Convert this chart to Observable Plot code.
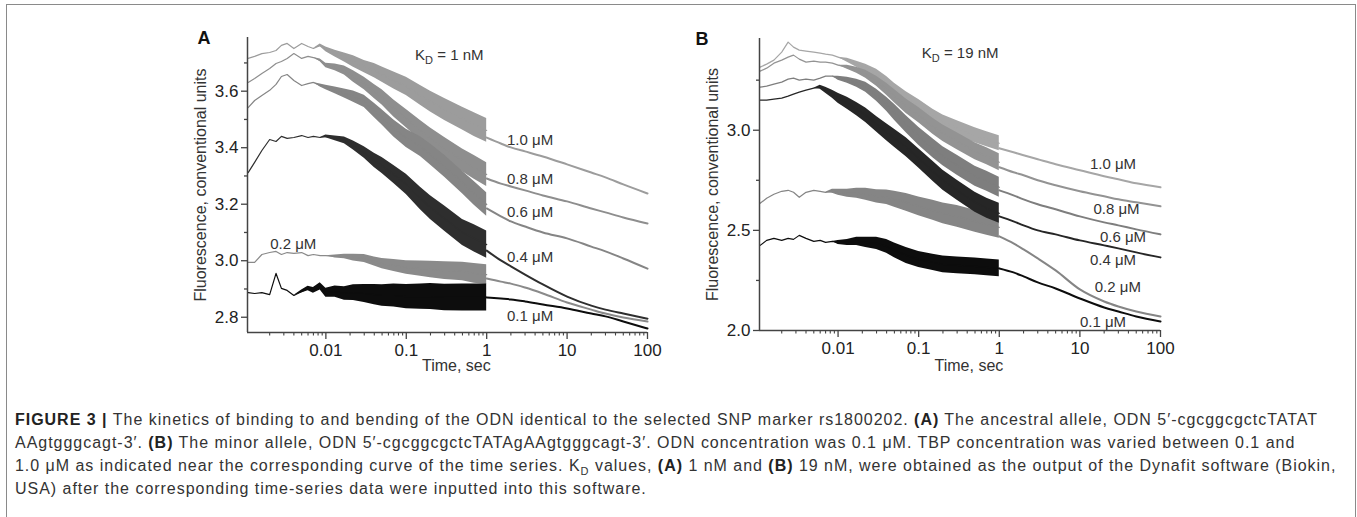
<!DOCTYPE html>
<html>
<head>
<meta charset="utf-8">
<script src="https://cdn.jsdelivr.net/npm/d3@7"></script>
<script src="https://cdn.jsdelivr.net/npm/@observablehq/plot@0.6"></script>
<style>
  html, body { margin: 0; padding: 0; background: #fff; }
  body { position: relative; width: 1357px; height: 517px; overflow: hidden; font-family: "Liberation Sans", Arial, Helvetica, sans-serif; }
  #border { position: absolute; left: 6px; top: 4px; width: 1350px; height: 600px; border: 1.5px solid #8a8a8a; border-bottom: none; box-sizing: border-box; }
  .panel { position: absolute; top: 0; }
  #caption { position: absolute; left: 0; top: 395px; }
</style>
</head>
<body>
<div id="border"></div>
<div id="panelA" class="panel" style="left:0;width:680px"></div>
<div id="panelB" class="panel" style="left:512px;width:681px"></div>
<svg id="caption" width="1357" height="122"></svg>
<script>
// ================= DATA =================
// time grids (seconds)
const tFast = [0.00108,0.0013,0.0016,0.002,0.0024,0.0028,0.0033,0.004,0.005,0.006,0.007,0.0085,0.01,0.013,0.017,0.022,0.03,0.04,0.05,0.07,0.1,0.15,0.2,0.3,0.5,0.7,1];
const tSlow = [1,1.5,2,3,5,10,20,30,50,100];

// TBP concentrations (order: 1.0, 0.8, 0.6, 0.4, 0.2, 0.1 µM)
const concLabels = ["1.0 μM","0.8 μM","0.6 μM","0.4 μM","0.2 μM","0.1 μM"];

// ---- Panel A (ancestral allele), fluorescence, fast phase (mean of trace) ----
const a10Fast = [3.716,3.723,3.733,3.737,3.744,3.762,3.769,3.751,3.769,3.758,3.751,3.762,3.748,3.733,3.719,3.705,3.687,3.673,3.659,3.638,3.617,3.585,3.563,3.535,3.503,3.482,3.461];
const a08Fast = [3.631,3.645,3.663,3.680,3.698,3.705,3.716,3.733,3.716,3.723,3.719,3.709,3.691,3.684,3.673,3.652,3.627,3.599,3.578,3.539,3.503,3.461,3.433,3.397,3.355,3.330,3.305];
const a06Fast = [3.542,3.567,3.585,3.603,3.624,3.652,3.659,3.638,3.620,3.627,3.631,3.620,3.613,3.603,3.592,3.581,3.564,3.532,3.507,3.468,3.433,3.404,3.376,3.334,3.277,3.238,3.199];
const a04Fast = [3.312,3.348,3.390,3.429,3.422,3.440,3.433,3.436,3.443,3.436,3.440,3.436,3.440,3.433,3.426,3.408,3.383,3.355,3.337,3.305,3.270,3.220,3.188,3.149,3.100,3.079,3.057];
const a02Fast = [2.994,2.994,3.022,3.029,3.033,3.022,3.029,3.026,3.029,3.018,3.022,3.018,3.018,3.015,3.015,3.011,3.008,2.997,2.990,2.983,2.976,2.972,2.969,2.965,2.962,2.955,2.951];
const a01Fast = [2.887,2.884,2.887,2.880,2.955,2.902,2.895,2.877,2.891,2.902,2.895,2.909,2.887,2.891,2.884,2.887,2.884,2.880,2.877,2.877,2.873,2.873,2.873,2.870,2.870,2.870,2.870];
// half-width of the noise band around each fast trace
const a10Noise = [0,0,0,0,0,0,0,0,0,0,0,0.005,0.008,0.012,0.016,0.02,0.022,0.025,0.027,0.03,0.032,0.035,0.037,0.039,0.04,0.042,0.042];
const a08Noise = [0,0,0,0,0,0,0,0,0,0,0,0.005,0.008,0.012,0.016,0.02,0.022,0.025,0.027,0.03,0.032,0.035,0.037,0.039,0.04,0.042,0.042];
const a06Noise = [0,0,0,0,0,0,0,0,0,0,0,0.005,0.008,0.012,0.016,0.02,0.022,0.025,0.027,0.03,0.032,0.035,0.037,0.039,0.04,0.042,0.042];
const a04Noise = [0,0,0,0,0,0,0,0,0,0,0,0,0.005,0.008,0.012,0.016,0.02,0.025,0.028,0.032,0.036,0.04,0.042,0.045,0.046,0.048,0.048];
const a02Noise = [0,0,0,0,0,0,0,0,0,0,0,0,0,0.005,0.008,0.012,0.014,0.016,0.018,0.021,0.024,0.027,0.029,0.031,0.033,0.035,0.035];
const a01Noise = [0,0,0,0,0,0,0,0,0.005,0.008,0.01,0.013,0.016,0.02,0.024,0.028,0.032,0.036,0.038,0.041,0.043,0.045,0.046,0.047,0.048,0.048,0.048];
// slow phase (1–100 s)
const a10Slow = [3.436,3.415,3.401,3.387,3.369,3.341,3.312,3.295,3.270,3.238];
const a08Slow = [3.291,3.273,3.263,3.249,3.231,3.210,3.185,3.171,3.153,3.132];
const a06Slow = [3.185,3.157,3.139,3.121,3.100,3.079,3.050,3.033,3.008,2.972];
const a04Slow = [3.036,3.001,2.980,2.951,2.916,2.873,2.841,2.827,2.813,2.795];
const a02Slow = [2.937,2.926,2.919,2.905,2.884,2.852,2.827,2.813,2.799,2.785];
const a01Slow = [2.870,2.866,2.863,2.856,2.845,2.831,2.813,2.803,2.785,2.760];

// ---- Panel B (minor allele) ----
const b10Fast = [3.315,3.330,3.350,3.390,3.440,3.415,3.400,3.395,3.390,3.385,3.380,3.375,3.365,3.350,3.330,3.310,3.280,3.240,3.205,3.160,3.120,3.070,3.040,3.010,2.975,2.955,2.935];
const b08Fast = [3.295,3.310,3.335,3.350,3.365,3.375,3.355,3.340,3.345,3.340,3.340,3.335,3.325,3.315,3.300,3.280,3.245,3.205,3.170,3.120,3.075,3.020,2.985,2.945,2.895,2.870,2.840];
const b06Fast = [3.215,3.220,3.230,3.240,3.255,3.260,3.250,3.255,3.250,3.260,3.270,3.270,3.260,3.250,3.235,3.215,3.175,3.130,3.090,3.030,2.970,2.910,2.870,2.825,2.770,2.745,2.715];
const b04Fast = [3.150,3.150,3.155,3.160,3.170,3.180,3.190,3.200,3.210,3.215,3.200,3.180,3.160,3.135,3.105,3.075,3.030,2.990,2.960,2.915,2.860,2.795,2.750,2.700,2.640,2.610,2.585];
const b02Fast = [2.635,2.660,2.680,2.695,2.700,2.690,2.665,2.690,2.700,2.695,2.690,2.695,2.690,2.685,2.685,2.680,2.670,2.665,2.655,2.640,2.620,2.600,2.585,2.570,2.545,2.530,2.515];
const b01Fast = [2.425,2.450,2.460,2.450,2.460,2.455,2.475,2.460,2.445,2.450,2.440,2.445,2.440,2.440,2.445,2.440,2.435,2.420,2.400,2.375,2.355,2.340,2.330,2.325,2.320,2.315,2.310];
const b10Noise = [0,0,0,0,0,0,0,0,0,0,0,0,0,0.01,0.015,0.02,0.025,0.028,0.03,0.032,0.034,0.035,0.036,0.037,0.037,0.037,0.037];
const b08Noise = [0,0,0,0,0,0,0,0,0,0,0,0,0,0.01,0.015,0.02,0.025,0.03,0.033,0.036,0.038,0.04,0.041,0.042,0.042,0.042,0.042];
const b06Noise = [0,0,0,0,0,0,0,0,0,0,0,0,0.01,0.015,0.02,0.025,0.03,0.035,0.04,0.042,0.045,0.047,0.048,0.05,0.05,0.05,0.05];
const b04Noise = [0,0,0,0,0,0,0,0,0,0.01,0.015,0.02,0.025,0.03,0.033,0.036,0.039,0.042,0.045,0.047,0.048,0.05,0.05,0.05,0.05,0.05,0.05];
const b02Noise = [0,0,0,0,0,0,0,0,0,0,0,0.01,0.015,0.02,0.025,0.03,0.033,0.036,0.04,0.044,0.047,0.05,0.052,0.054,0.055,0.055,0.055];
const b01Noise = [0,0,0,0,0,0,0,0,0,0,0,0,0.01,0.015,0.02,0.025,0.03,0.034,0.037,0.04,0.04,0.041,0.042,0.042,0.042,0.042,0.042];
const b10Slow = [2.910,2.890,2.875,2.855,2.830,2.800,2.770,2.755,2.735,2.715];
const b08Slow = [2.815,2.790,2.775,2.750,2.725,2.695,2.670,2.655,2.640,2.620];
const b06Slow = [2.700,2.675,2.655,2.630,2.605,2.570,2.540,2.525,2.505,2.480];
const b04Slow = [2.570,2.545,2.525,2.500,2.480,2.450,2.425,2.410,2.390,2.365];
const b02Slow = [2.470,2.435,2.405,2.360,2.300,2.205,2.145,2.120,2.095,2.070];
const b01Slow = [2.310,2.290,2.270,2.240,2.210,2.160,2.115,2.095,2.070,2.045];

// ---- annotations (data coordinates) ----
const labelTA = [1.79,1.79,1.79,1.79,0.00203,1.79];
const labelVA = [3.408,3.272,3.154,2.995,3.043,2.788];
const labelTB = [13.3,14.7,17.7,13.3,15.3,10.0];
const labelVB = [2.808,2.583,2.442,2.325,2.192,2.017];
const kdTextA = "KD = 1 nM", kdTA = 0.1286, kdVA = 3.711;
const kdTextB = "KD = 19 nM", kdTB = 0.1092, kdVB = 3.3585;

// ---- axes ----
const xDomain = [0.00106, 100];
const xTicks = [0.01, 0.1, 1, 10, 100];
const xTickLabels = ["0.01", "0.1", "1", "10", "100"];
const xMinorMantissa = [2,3,4,5,6,7,8,9];
const xMinorDecades = [0.001,0.01,0.1,1,10];
const yDomainA = [2.746, 3.79];
const yTicksA = [2.8, 3.0, 3.2, 3.4, 3.6];
const yTickLabelsA = ["2.8", "3.0", "3.2", "3.4", "3.6"];
const yMinorA = [2.9, 3.1, 3.3, 3.5, 3.7];
const yDomainB = [2.0, 3.458];
const yTicksB = [2.0, 2.5, 3.0];
const yTickLabelsB = ["2.0", "2.5", "3.0"];
const yMinorB = [2.25, 2.75, 3.25];

// ================= STYLE =================
const FONT = '"Liberation Sans", Arial, Helvetica, sans-serif';
const colorsA = ["#9c9c9c","#8e8e8e","#858585","#2e2e2e","#8a8a8a","#0d0d0d"];
const colorsB = ["#a6a6a6","#939393","#7e7e7e","#262626","#858585","#0d0d0d"];
const drawOrder = [0,1,2,4,3,5];
const xMinor = xMinorDecades.flatMap(d => xMinorMantissa.map(m => +(m * d).toPrecision(3)));

function panel(p) {
  const marks = [];
  for (const i of drawOrder) {
    const fast = tFast.map((t, j) => ({t, v: p.fast[i][j], lo: p.fast[i][j] - p.noise[i][j], hi: p.fast[i][j] + p.noise[i][j]}));
    const slow = tSlow.map((t, j) => ({t, v: p.slow[i][j]}));
    marks.push(Plot.areaY(fast, {x: "t", y1: "lo", y2: "hi", fill: p.colors[i]}));
    marks.push(Plot.line(fast, {x: "t", y: "v", stroke: p.colors[i], strokeWidth: 1.2}));
    marks.push(Plot.line(slow, {x: "t", y: "v", stroke: p.colors[i], strokeWidth: 2, curve: "monotone-x"}));
  }
  marks.push(Plot.ruleX([xDomain[0]], {stroke: "#444", strokeWidth: 1.5}));
  marks.push(Plot.ruleY([p.yDomain[0]], {stroke: "#444", strokeWidth: 1.5}));
  marks.push(Plot.axisY(p.yTicks, {tickSize: 6, tickPadding: 3, tickFormat: d => p.yTickLabels[p.yTicks.indexOf(d)], fontSize: 17, label: null, stroke: "#444", fill: "#222", strokeWidth: 1.3}));
  marks.push(Plot.axisY(p.yMinor, {tickSize: 3, tickFormat: () => "", label: null, stroke: "#444", strokeWidth: 1.3}));
  marks.push(Plot.axisX(xTicks, {tickSize: 7, tickPadding: 4, tickFormat: d => xTickLabels[xTicks.indexOf(d)], fontSize: 17, label: null, stroke: "#444", fill: "#222", strokeWidth: 1.3}));
  marks.push(Plot.axisX(xMinor, {tickSize: 3.5, tickFormat: () => "", label: null, stroke: "#444", strokeWidth: 1.1}));
  const labels = concLabels.map((s, i) => ({s, t: p.labelT[i], v: p.labelV[i]}));
  marks.push(Plot.text(labels, {x: "t", y: "v", text: "s", textAnchor: "start", lineAnchor: "bottom", fontSize: 15, fill: "#333"}));
  marks.push(Plot.text([{s: p.kdText, t: p.kdT, v: p.kdV}], {x: "t", y: "v", text: "s", textAnchor: "start", lineAnchor: "bottom", fontSize: 15, fill: "#333"}));
  marks.push(Plot.text([p.letter], {text: d => d, frameAnchor: "top-left", dx: p.letterDx, dy: 6, textAnchor: "start", lineAnchor: "bottom", fontSize: 18, fontWeight: "bold", fill: "#111"}));
  marks.push(Plot.text(["Fluorescence, conventional units"], {text: d => d, frameAnchor: "left", rotate: -90, dx: -47, textAnchor: "middle", lineAnchor: "middle", fontSize: 16, fill: "#333"}));
  marks.push(Plot.text([{t: 0.42}], {x: "t", text: () => "Time, sec", frameAnchor: "bottom", dy: p.timeDy, lineAnchor: "bottom", fontSize: 16, fill: "#333"}));

  const svg = Plot.plot({
    width: p.width, height: 380,
    marginLeft: 247, marginRight: 33, marginTop: p.mTop, marginBottom: p.mBottom,
    x: {type: "log", domain: xDomain, axis: null},
    y: {domain: p.yDomain, axis: null},
    style: {background: "transparent", fontFamily: FONT, overflow: "visible"},
    marks
  });
  d3.select(svg).selectAll("text").each(function () {
    const s = this.textContent;
    if (s.startsWith("KD")) {
      const sel = d3.select(this);
      sel.text(null);
      sel.append("tspan").text("K");
      sel.append("tspan").attr("dy", 4).attr("font-size", 11).text("D");
      sel.append("tspan").attr("dy", -4).text(s.slice(2));
    }
  });
  return svg;
}

document.getElementById("panelA").appendChild(panel({
  fast: [a10Fast, a08Fast, a06Fast, a04Fast, a02Fast, a01Fast],
  noise: [a10Noise, a08Noise, a06Noise, a04Noise, a02Noise, a01Noise],
  slow: [a10Slow, a08Slow, a06Slow, a04Slow, a02Slow, a01Slow],
  colors: colorsA, yDomain: yDomainA, yTicks: yTicksA, yTickLabels: yTickLabelsA, yMinor: yMinorA,
  labelT: labelTA, labelV: labelVA, kdText: kdTextA, kdT: kdTA, kdV: kdVA,
  letter: "A", letterDx: -50, width: 680, mTop: 37, mBottom: 48, timeDy: 38
}));
document.getElementById("panelB").appendChild(panel({
  fast: [b10Fast, b08Fast, b06Fast, b04Fast, b02Fast, b01Fast],
  noise: [b10Noise, b08Noise, b06Noise, b04Noise, b02Noise, b01Noise],
  slow: [b10Slow, b08Slow, b06Slow, b04Slow, b02Slow, b01Slow],
  colors: colorsB, yDomain: yDomainB, yTicks: yTicksB, yTickLabels: yTickLabelsB, yMinor: yMinorB,
  labelT: labelTB, labelV: labelVB, kdText: kdTextB, kdT: kdTB, kdV: kdVB,
  letter: "B", letterDx: -64, width: 681, mTop: 38, mBottom: 50, timeDy: 40
}));

// ================= CAPTION =================
const captionLines = [
  [["FIGURE 3 | ", "b"], ["The kinetics of binding to and bending of the ODN identical to the selected SNP marker rs1800202. "], ["(A)", "b"], [" The ancestral allele, ODN 5′-cgcggcgctcTATAT"]],
  [["AAgtgggcagt-3′. "], ["(B)", "b"], [" The minor allele, ODN 5′-cgcggcgctcTATAgAAgtgggcagt-3′. ODN concentration was 0.1 μM. TBP concentration was varied between 0.1 and"]],
  [["1.0 μM as indicated near the corresponding curve of the time series. K"], ["D", "sub"], [" values, "], ["(A)", "b"], [" 1 nM and "], ["(B)", "b"], [" 19 nM, were obtained as the output of the Dynafit software (Biokin,"]],
  [["USA) after the corresponding time-series data were inputted into this software."]]
];
const captionBaselines = [425, 448, 471, 494];
const captionTop = 395, captionLeft = 15, captionLine1Width = 1302;
const cap = d3.select("#caption");
const capTexts = captionLines.map((segs, li) => {
  const t = cap.append("text").attr("x", captionLeft).attr("y", captionBaselines[li] - captionTop)
    .attr("font-family", FONT).attr("font-size", 16).attr("fill", "#333").style("white-space", "pre");
  let up = false;
  segs.forEach(([s, k]) => {
    if (k === "sub") { t.append("tspan").attr("dy", 4).attr("font-size", 11).text(s); up = true; return; }
    const ts = t.append("tspan").text(s);
    if (k === "b") ts.attr("font-weight", "bold").attr("fill", "#222");
    if (up) { ts.attr("dy", -4); up = false; }
  });
  return t;
});
const n0 = captionLines[0].map(d => d[0]).join("").length;
const w0 = capTexts[0].node().getComputedTextLength();
const ls = Math.max(-0.5, Math.min(1.5, (captionLine1Width - w0) / (n0 - 1)));
capTexts.forEach(t => t.style("letter-spacing", ls + "px"));
</script>
</body>
</html>
